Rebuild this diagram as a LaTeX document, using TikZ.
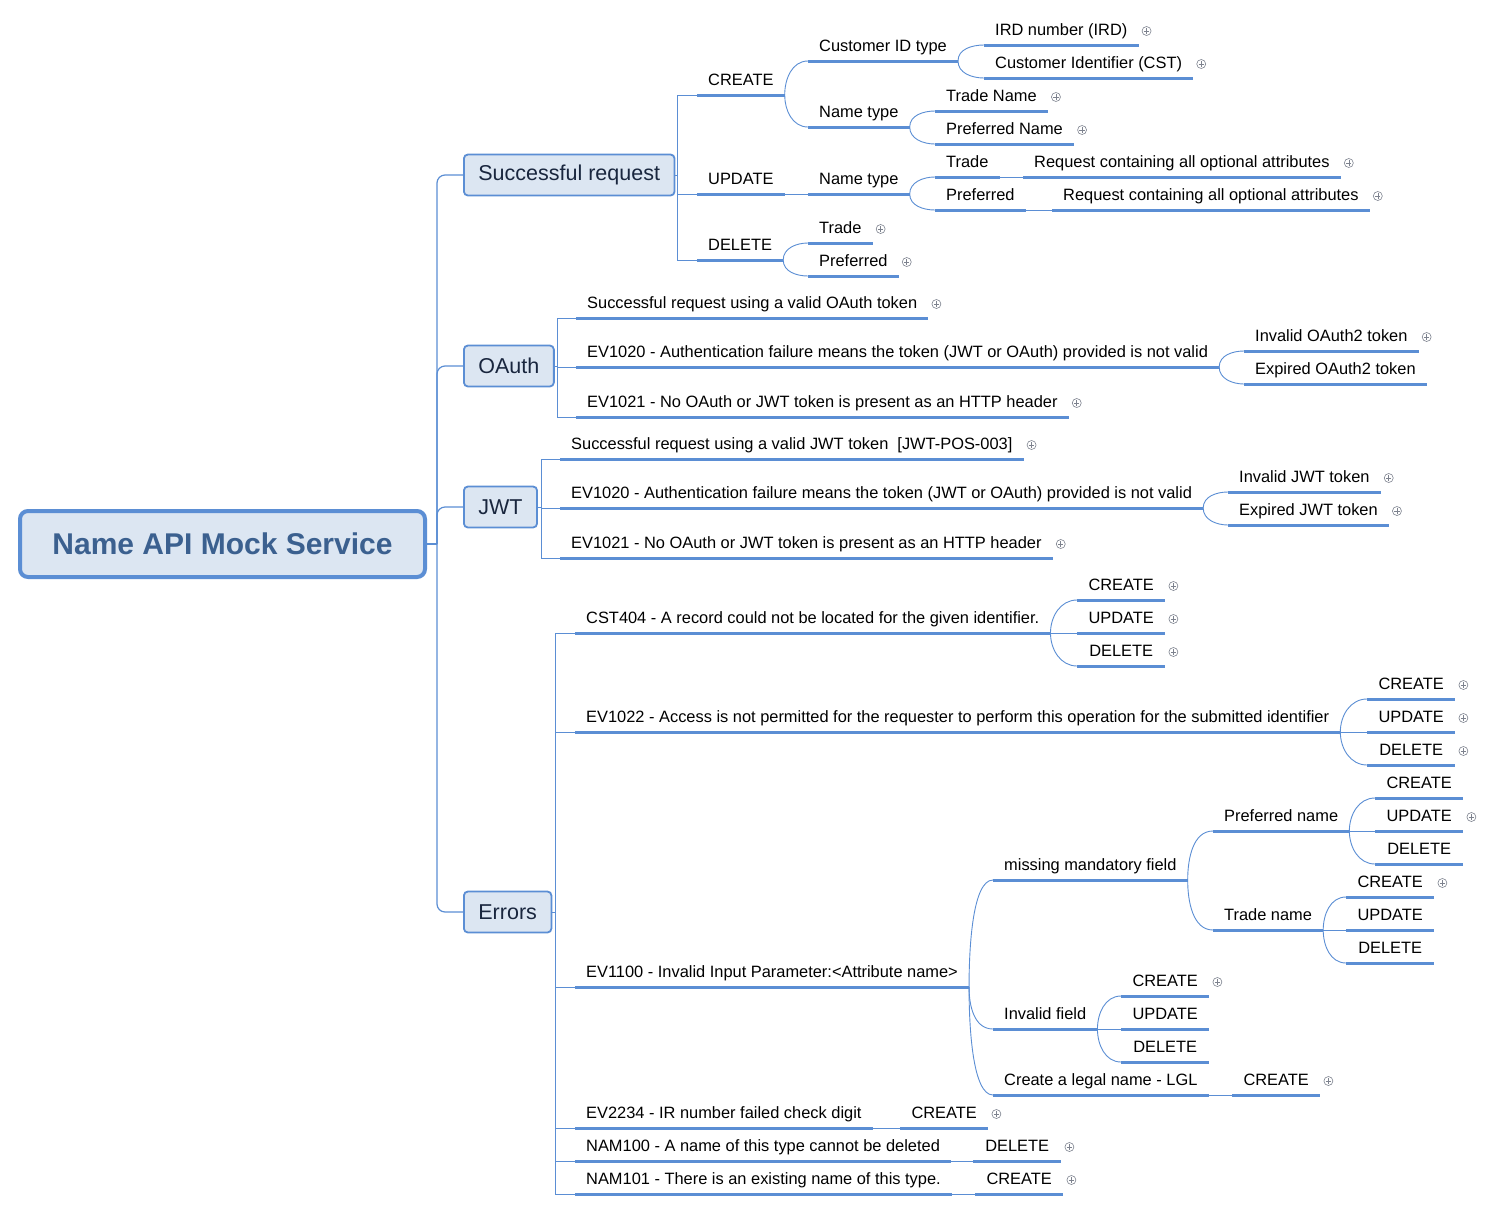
\documentclass[tikz,border=0pt]{standalone}
\usepackage{fontspec}
\setmainfont{Liberation Sans}
\usepackage{xcolor}
\usepackage{tikz}
\usetikzlibrary{positioning}
\definecolor{mapblue}{RGB}{91,142,212}
\definecolor{mapfill}{RGB}{220,230,242}
\definecolor{rootink}{RGB}{59,96,143}
\definecolor{boxink}{RGB}{25,38,62}
\definecolor{foldgray}{RGB}{125,130,142}

\begin{document}
\begin{tikzpicture}[x=1pt, y=1pt]
  % Mind map styles: root, main branches, underlined topics, fold markers
  \tikzstyle{central} = [rectangle, rounded corners=8pt, draw=mapblue, line width=4pt, fill=mapfill, minimum width=405pt, minimum height=66pt, text=rootink, font=\fontsize{30}{35}\selectfont\bfseries]
  \tikzstyle{mainbox} = [rectangle, rounded corners=4pt, draw=mapblue, line width=1.8pt, fill=mapfill, minimum height=41pt, inner xsep=14.5pt, anchor=west, text=boxink, font=\fontsize{21.5}{25}\selectfont]
  \tikzstyle{uline} = [draw=mapblue, line width=3pt]
  \tikzstyle{topic} = [anchor=south west, inner xsep=11pt, inner ysep=5.5pt, text height=12pt, text depth=3.5pt, font=\fontsize{16.4}{19}\selectfont, append after command={(\tikzlastnode.south west) edge[uline] (\tikzlastnode.south east)}]
  \tikzstyle{action} = [topic, minimum width=88pt]
  \tikzstyle{fold} = [circle, draw=foldgray, line width=0.6pt, minimum size=9pt, inner sep=0pt, path picture={\draw[foldgray, line width=0.6pt] ([xshift=-2.6pt]path picture bounding box.center) -- ([xshift=2.6pt]path picture bounding box.center) ([yshift=-2.6pt]path picture bounding box.center) -- ([yshift=2.6pt]path picture bounding box.center);}]
  \tikzstyle{trunk} = [draw=mapblue, line width=1.2pt, rounded corners=8pt]
  \tikzstyle{bus} = [draw=mapblue, line width=1pt]
  \tikzstyle{twig} = [draw=mapblue, line width=0.9pt]
  \tikzstyle{twigup} = [twig, out=90, in=180, in max distance=20pt]
  \tikzstyle{twigdn} = [twig, out=-90, in=180, in max distance=20pt]

  \path[use as bounding box, fill=white] (0,0) rectangle (1492,-1211);

  % Root
  \node[central] (root) at (222.5,-544) {Name API Mock Service};

  % Successful request branch
  \node[mainbox] (succ) at (463,-175) {Successful request};
  \node[topic] (s-create) at (697,-95) {CREATE};
  \node[topic] (s-update) at (697,-194) {UPDATE};
  \node[topic] (s-delete) at (697,-260) {DELETE};
  \node[topic] (s-custid) at (808,-61) {Customer ID type};
  \node[topic] (s-ntype) at (808,-127) {Name type};
  \node[topic] (s-ird) at (984,-45) {IRD number (IRD)};
  \node[topic] (s-cst) at (984,-78) {Customer Identifier (CST)};
  \node[topic] (s-tname) at (935,-111) {Trade Name};
  \node[topic] (s-pname) at (935,-144) {Preferred Name};
  \node[topic] (s-untype) at (808,-194) {Name type};
  \node[topic] (s-utrade) at (935,-177) {Trade};
  \node[topic] (s-upref) at (935,-210) {Preferred};
  \node[topic] (s-utreq) at (1023,-177) {Request containing all optional attributes};
  \node[topic] (s-upreq) at (1052,-210) {Request containing all optional attributes};
  \node[topic] (s-dtrade) at (808,-243) {Trade};
  \node[topic] (s-dpref) at (808,-276) {Preferred};
  \node[fold] (f-ird) at ([shift={(8,14)}]s-ird.south east) {};
  \node[fold] (f-cst) at ([shift={(8,14)}]s-cst.south east) {};
  \node[fold] (f-tname) at ([shift={(8,14)}]s-tname.south east) {};
  \node[fold] (f-pname) at ([shift={(8,14)}]s-pname.south east) {};
  \node[fold] (f-utreq) at ([shift={(8,14)}]s-utreq.south east) {};
  \node[fold] (f-upreq) at ([shift={(8,14)}]s-upreq.south east) {};
  \node[fold] (f-dtrade) at ([shift={(8,14)}]s-dtrade.south east) {};
  \node[fold] (f-dpref) at ([shift={(8,14)}]s-dpref.south east) {};

  % OAuth branch
  \node[mainbox] (oauth) at (463,-366) {OAuth};
  \node[topic] (o-valid) at (576,-318) {Successful request using a valid OAuth token};
  \node[topic] (o-ev1020) at (576,-367) {EV1020 - Authentication failure means the token (JWT or OAuth) provided is not valid};
  \node[topic] (o-invalid) at (1244,-351) {Invalid OAuth2 token};
  \node[topic] (o-expired) at (1244,-384) {Expired OAuth2 token};
  \node[topic] (o-ev1021) at (576,-417) {EV1021 - No OAuth or JWT token is present as an HTTP header};
  \node[fold] (f-ovalid) at ([shift={(8,14)}]o-valid.south east) {};
  \node[fold] (f-oinvalid) at ([shift={(8,14)}]o-invalid.south east) {};
  \node[fold] (f-oev1021) at ([shift={(8,14)}]o-ev1021.south east) {};

  % JWT branch
  \node[mainbox] (jwt) at (463,-507) {JWT};
  \node[topic] (j-valid) at (560,-459) {Successful request using a valid JWT token~ [JWT-POS-003]};
  \node[topic] (j-ev1020) at (560,-508) {EV1020 - Authentication failure means the token (JWT or OAuth) provided is not valid};
  \node[topic] (j-invalid) at (1228,-492) {Invalid JWT token};
  \node[topic] (j-expired) at (1228,-525) {Expired JWT token};
  \node[topic] (j-ev1021) at (560,-558) {EV1021 - No OAuth or JWT token is present as an HTTP header};
  \node[fold] (f-jvalid) at ([shift={(8,14)}]j-valid.south east) {};
  \node[fold] (f-jinvalid) at ([shift={(8,14)}]j-invalid.south east) {};
  \node[fold] (f-jexpired) at ([shift={(8,14)}]j-expired.south east) {};
  \node[fold] (f-jev1021) at ([shift={(8,14)}]j-ev1021.south east) {};

  % Errors branch
  \node[mainbox] (errors) at (463,-912) {Errors};
  \node[topic] (e-cst404) at (575,-633) {CST404 - A record could not be located for the given identifier.};
  \node[action] (e-rc-create) at (1077,-600) {CREATE};
  \node[action] (e-rc-update) at (1077,-633) {UPDATE};
  \node[action] (e-rc-delete) at (1077,-666) {DELETE};
  \node[topic] (e-ev1022) at (575,-732) {EV1022 - Access is not permitted for the requester to perform this operation for the submitted identifier};
  \node[action] (e-ac-create) at (1367,-699) {CREATE};
  \node[action] (e-ac-update) at (1367,-732) {UPDATE};
  \node[action] (e-ac-delete) at (1367,-765) {DELETE};
  \node[topic] (e-ev1100) at (575,-987) {EV1100 - Invalid Input Parameter:<Attribute name>};
  \node[topic] (e-missing) at (993,-880) {missing mandatory field};
  \node[topic] (e-mpref) at (1213,-831) {Preferred name};
  \node[action] (e-mp-create) at (1375,-798) {CREATE};
  \node[action] (e-mp-update) at (1375,-831) {UPDATE};
  \node[action] (e-mp-delete) at (1375,-864) {DELETE};
  \node[topic] (e-mtrade) at (1213,-930) {Trade name};
  \node[action] (e-mt-create) at (1346,-897) {CREATE};
  \node[action] (e-mt-update) at (1346,-930) {UPDATE};
  \node[action] (e-mt-delete) at (1346,-963) {DELETE};
  \node[topic] (e-invalid) at (993,-1029) {Invalid field};
  \node[action] (e-if-create) at (1121,-996) {CREATE};
  \node[action] (e-if-update) at (1121,-1029) {UPDATE};
  \node[action] (e-if-delete) at (1121,-1062) {DELETE};
  \node[topic] (e-legal) at (993,-1095) {Create a legal name - LGL};
  \node[action] (e-lg-create) at (1232,-1095) {CREATE};
  \node[topic] (e-ev2234) at (575,-1128) {EV2234 - IR number failed check digit};
  \node[action] (e-ir-create) at (900,-1128) {CREATE};
  \node[topic] (e-nam100) at (575,-1161) {NAM100 - A name of this type cannot be deleted};
  \node[action] (e-nd-delete) at (973,-1161) {DELETE};
  \node[topic] (e-nam101) at (575,-1194) {NAM101 - There is an existing name of this type.};
  \node[action] (e-nx-create) at (975,-1194) {CREATE};
  \node[fold] (f-rc-create) at ([shift={(8,14)}]e-rc-create.south east) {};
  \node[fold] (f-rc-update) at ([shift={(8,14)}]e-rc-update.south east) {};
  \node[fold] (f-rc-delete) at ([shift={(8,14)}]e-rc-delete.south east) {};
  \node[fold] (f-ac-create) at ([shift={(8,14)}]e-ac-create.south east) {};
  \node[fold] (f-ac-update) at ([shift={(8,14)}]e-ac-update.south east) {};
  \node[fold] (f-ac-delete) at ([shift={(8,14)}]e-ac-delete.south east) {};
  \node[fold] (f-mp-update) at ([shift={(8,14)}]e-mp-update.south east) {};
  \node[fold] (f-mt-create) at ([shift={(8,14)}]e-mt-create.south east) {};
  \node[fold] (f-if-create) at ([shift={(8,14)}]e-if-create.south east) {};
  \node[fold] (f-lg-create) at ([shift={(8,14)}]e-lg-create.south east) {};
  \node[fold] (f-ir-create) at ([shift={(8,14)}]e-ir-create.south east) {};
  \node[fold] (f-nd-delete) at ([shift={(8,14)}]e-nd-delete.south east) {};
  \node[fold] (f-nx-create) at ([shift={(8,14)}]e-nx-create.south east) {};

  % Junction points
  \coordinate (r-bus) at (437,-544);
  \coordinate (s-bus) at (677,-175);
  \coordinate (o-bus) at (557,-366);
  \coordinate (j-bus) at (541,-507);
  \coordinate (e-bus) at (555,-912);

  % Root to main branches
  \draw[trunk] (root.east) -- (r-bus);
  \draw[trunk] (r-bus) |- (succ.west);
  \draw[trunk] (r-bus) |- (oauth.west);
  \draw[trunk] (r-bus) |- (jwt.west);
  \draw[trunk] (r-bus) |- (errors.west);

  % Successful request connectors
  \draw[bus] (succ.east) -- (s-bus);
  \draw[bus] (s-bus) |- (s-create.south west);
  \draw[bus] (s-bus) |- (s-update.south west);
  \draw[bus] (s-bus) |- (s-delete.south west);
  \draw[twigup] (s-create.south east) to (s-custid.south west);
  \draw[twigdn] (s-create.south east) to (s-ntype.south west);
  \draw[twigup] (s-custid.south east) to (s-ird.south west);
  \draw[twigdn] (s-custid.south east) to (s-cst.south west);
  \draw[twigup] (s-ntype.south east) to (s-tname.south west);
  \draw[twigdn] (s-ntype.south east) to (s-pname.south west);
  \draw[twig] (s-update.south east) -- (s-untype.south west);
  \draw[twigup] (s-untype.south east) to (s-utrade.south west);
  \draw[twigdn] (s-untype.south east) to (s-upref.south west);
  \draw[twig] (s-utrade.south east) -- (s-utreq.south west);
  \draw[twig] (s-upref.south east) -- (s-upreq.south west);
  \draw[twigup] (s-delete.south east) to (s-dtrade.south west);
  \draw[twigdn] (s-delete.south east) to (s-dpref.south west);

  % OAuth connectors
  \draw[bus] (oauth.east) -- (o-bus);
  \draw[bus] (o-bus) |- (o-valid.south west);
  \draw[bus] (o-bus) |- (o-ev1020.south west);
  \draw[bus] (o-bus) |- (o-ev1021.south west);
  \draw[twigup] (o-ev1020.south east) to (o-invalid.south west);
  \draw[twigdn] (o-ev1020.south east) to (o-expired.south west);

  % JWT connectors
  \draw[bus] (jwt.east) -- (j-bus);
  \draw[bus] (j-bus) |- (j-valid.south west);
  \draw[bus] (j-bus) |- (j-ev1020.south west);
  \draw[bus] (j-bus) |- (j-ev1021.south west);
  \draw[twigup] (j-ev1020.south east) to (j-invalid.south west);
  \draw[twigdn] (j-ev1020.south east) to (j-expired.south west);

  % Errors connectors
  \draw[bus] (errors.east) -- (e-bus);
  \draw[bus] (e-bus) |- (e-cst404.south west);
  \draw[bus] (e-bus) |- (e-ev1022.south west);
  \draw[bus] (e-bus) |- (e-ev1100.south west);
  \draw[bus] (e-bus) |- (e-ev2234.south west);
  \draw[bus] (e-bus) |- (e-nam100.south west);
  \draw[bus] (e-bus) |- (e-nam101.south west);
  \draw[twigup] (e-cst404.south east) to (e-rc-create.south west);
  \draw[twig] (e-cst404.south east) -- (e-rc-update.south west);
  \draw[twigdn] (e-cst404.south east) to (e-rc-delete.south west);
  \draw[twigup] (e-ev1022.south east) to (e-ac-create.south west);
  \draw[twig] (e-ev1022.south east) -- (e-ac-update.south west);
  \draw[twigdn] (e-ev1022.south east) to (e-ac-delete.south west);
  \draw[twigup] (e-ev1100.south east) to (e-missing.south west);
  \draw[twigdn] (e-ev1100.south east) to (e-invalid.south west);
  \draw[twigdn] (e-ev1100.south east) to (e-legal.south west);
  \draw[twigup] (e-missing.south east) to (e-mpref.south west);
  \draw[twigdn] (e-missing.south east) to (e-mtrade.south west);
  \draw[twigup] (e-mpref.south east) to (e-mp-create.south west);
  \draw[twig] (e-mpref.south east) -- (e-mp-update.south west);
  \draw[twigdn] (e-mpref.south east) to (e-mp-delete.south west);
  \draw[twigup] (e-mtrade.south east) to (e-mt-create.south west);
  \draw[twig] (e-mtrade.south east) -- (e-mt-update.south west);
  \draw[twigdn] (e-mtrade.south east) to (e-mt-delete.south west);
  \draw[twigup] (e-invalid.south east) to (e-if-create.south west);
  \draw[twig] (e-invalid.south east) -- (e-if-update.south west);
  \draw[twigdn] (e-invalid.south east) to (e-if-delete.south west);
  \draw[twig] (e-legal.south east) -- (e-lg-create.south west);
  \draw[twig] (e-ev2234.south east) -- (e-ir-create.south west);
  \draw[twig] (e-nam100.south east) -- (e-nd-delete.south west);
  \draw[twig] (e-nam101.south east) -- (e-nx-create.south west);
\end{tikzpicture}
\end{document}
